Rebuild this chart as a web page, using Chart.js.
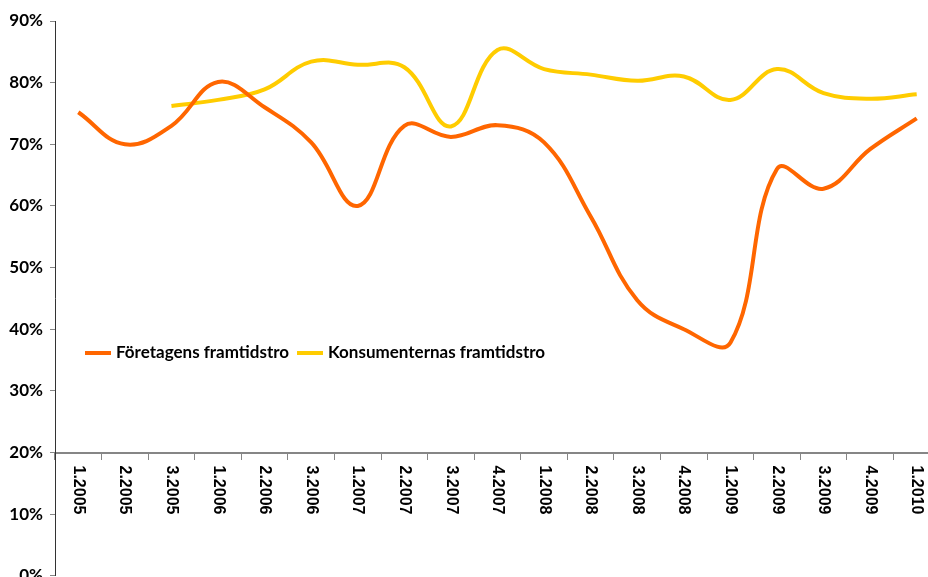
<!DOCTYPE html>
<html>
<head>
<meta charset="utf-8">
<script src="https://cdn.jsdelivr.net/npm/chart.js@4"></script>
<style>
    html, body { margin: 0; padding: 0; background: #fff; overflow: hidden; }
    #wrap { position: relative; width: 928px; height: 577px; overflow: hidden; }
    #box { position: absolute; left: 0; top: 0; width: 940px; height: 593px; }
    #legend { position: absolute; left: 85px; top: 341px; font: bold 17px Lato, sans-serif; color: #000; white-space: nowrap; }
    #legend span.item { display: inline-block; margin-right: 8px; }
    #legend span.swatch { display: inline-block; width: 26px; height: 4px; vertical-align: middle; margin-right: 5px; position: relative; top: -1px; }
</style>
</head>
<body>
<div id="wrap">
    <div id="box"><canvas id="chartFramtidstro"></canvas></div>
    <div id="legend"></div>
</div>
<script>
var labels = ['1.2005', '2.2005', '3.2005', '1.2006', '2.2006', '3.2006', '1.2007', '2.2007', '3.2007', '4.2007',
    '1.2008', '2.2008', '3.2008', '4.2008', '1.2009', '2.2009', '3.2009', '4.2009', '1.2010'];

var foretagen = [75.2, 70.0, 73.0, 80.1, 76.0, 70.3, 60.0, 73.0, 71.2, 73.1,
    70.3, 58.3, 44.7, 40.0, 37.8, 66.0, 62.8, 69.2, 74.2];

var konsumenter = [null, null, 76.2, 77.2, 78.9, 83.4, 82.9, 82.5, 72.9, 85.3,
    82.2, 81.3, 80.3, 81.0, 77.2, 82.2, 78.3, 77.4, 78.1];

var seriesNames = ['Företagens framtidstro', 'Konsumenternas framtidstro'];
var seriesColors = ['#FF6600', '#FFCC00'];
var yTicks = [0, 10, 20, 30, 40, 50, 60, 70, 80, 90];

// x labels read top to bottom, so draw them ourselves at the scale positions
var rotatedLabels = {
    id: 'rotatedLabels',
    afterDraw: function (chart) {
        var ctx = chart.ctx;
        var xs = chart.scales.x;
        var y0 = chart.scales.y.getPixelForValue(20) + 13;
        ctx.save();
        ctx.font = 'bold 16px "Liberation Sans", Arial, sans-serif';
        ctx.fillStyle = '#000';
        ctx.textAlign = 'left';
        ctx.textBaseline = 'middle';
        labels.forEach(function (lab, i) {
            ctx.save();
            ctx.translate(xs.getPixelForValue(i), y0);
            ctx.rotate(Math.PI / 2);
            ctx.fillText(lab, 0, 0);
            ctx.restore();
        });
        ctx.restore();
    }
};

var ctx = document.getElementById('chartFramtidstro').getContext('2d');

var chartData = {
    labels: labels,
    datasets: [{
        label: seriesNames[0],
        data: foretagen,
        borderColor: seriesColors[0],
        borderWidth: 4,
        pointRadius: 0,
        tension: 0.4,
        fill: false
    }, {
        label: seriesNames[1],
        data: konsumenter,
        borderColor: seriesColors[1],
        borderWidth: 4,
        pointRadius: 0,
        tension: 0.4,
        fill: false
    }]
};

var options = {
    responsive: true,
    maintainAspectRatio: false,
    animation: false,
    layout: { padding: { top: 21, right: 0, bottom: 3, left: 0 } },
    plugins: {
        legend: { display: false },
        tooltip: { enabled: false }
    },
    scales: {
        x: {
            position: { y: 20 },
            offset: true,
            grid: {
                offset: true,
                drawOnChartArea: false,
                drawTicks: true,
                tickLength: 6,
                color: '#868686'
            },
            border: { color: '#868686', width: 2 },
            ticks: { display: false }
        },
        y: {
            min: 0,
            max: 90,
            afterBuildTicks: function (scale) {
                scale.ticks = yTicks.map(function (v) { return { value: v }; });
            },
            afterFit: function (scale) { scale.width = 55; },
            grid: {
                drawOnChartArea: false,
                drawTicks: true,
                tickLength: 5,
                color: '#868686'
            },
            border: { color: '#333', width: 1 },
            ticks: {
                padding: 7,
                color: '#000',
                font: { family: 'Lato, sans-serif', size: 17, weight: 'bold' },
                callback: function (v) { return v + '%'; }
            }
        }
    }
};

var myChart = new Chart(ctx, {
    type: 'line',
    data: chartData,
    options: options,
    plugins: [rotatedLabels]
});

var legend = document.getElementById('legend');
seriesNames.forEach(function (name, i) {
    var item = document.createElement('span');
    item.className = 'item';
    var sw = document.createElement('span');
    sw.className = 'swatch';
    sw.style.background = seriesColors[i];
    item.appendChild(sw);
    item.appendChild(document.createTextNode(name));
    legend.appendChild(item);
});
</script>
</body>
</html>
